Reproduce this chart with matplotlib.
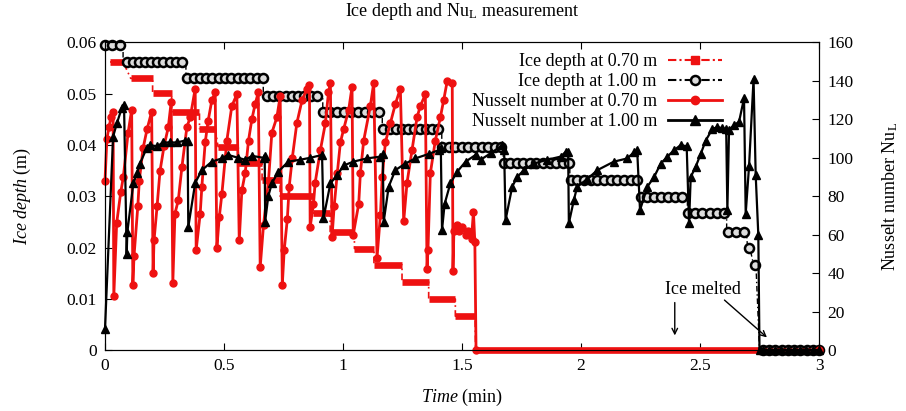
import numpy as np
import matplotlib
matplotlib.use('Agg')
import matplotlib.pyplot as plt
from matplotlib.lines import Line2D

plt.rcParams['font.family'] = 'Liberation Serif'
plt.rcParams['mathtext.fontset'] = 'custom'
plt.rcParams['mathtext.rm'] = 'Liberation Serif'
plt.rcParams['mathtext.it'] = 'Liberation Serif:italic'

RED = '#ee1111'

# ---- ice depth at 0.70 m (step levels, m) ----
r70_start = [0.021, 0.108, 0.200, 0.280, 0.397, 0.475, 0.560, 0.660, 0.736, 0.876,
             0.946, 1.048, 1.130, 1.248, 1.360, 1.472, 1.557]
r70_end = [0.076, 0.200, 0.280, 0.397, 0.463, 0.560, 0.660, 0.736, 0.876, 0.946,
           1.048, 1.130, 1.248, 1.360, 1.472, 1.555, 3.0]
r70_level = [0.0562, 0.0530, 0.0501, 0.0465, 0.0432, 0.0397, 0.0365, 0.0332, 0.0300, 0.0267,
             0.0231, 0.0198, 0.0166, 0.0133, 0.00995, 0.0066, 0.0]

# ---- ice depth at 1.00 m (step levels, m) ----
d100_start = [0.0, 0.076, 0.34, 0.665, 0.915, 1.165, 1.415, 1.673, 1.953, 2.245,
              2.447, 2.612, 2.700, 2.725, 2.75]
d100_end = [0.076, 0.34, 0.665, 0.915, 1.165, 1.415, 1.673, 1.953, 2.245, 2.447,
            2.612, 2.695, 2.71, 2.735, 3.0]
d100_level = [0.0595, 0.0562, 0.0531, 0.0496, 0.0464, 0.0431, 0.0396, 0.0365, 0.0332, 0.0299,
              0.0267, 0.0230, 0.0199, 0.0166, 0.0]
# first / last sample shown with a marker on each step, and number of samples
d100_first = [0.0, 0.091, 0.346, 0.68, 0.918, 1.17, 1.417, 1.676, 1.956, 2.25,
              2.45, 2.617, 2.705, 2.73, 2.765]
d100_last = [0.063, 0.323, 0.663, 0.89, 1.15, 1.40, 1.665, 1.95, 2.237, 2.426,
             2.60, 2.685, 2.705, 2.73, 3.0]
d100_count = [3, 10, 13, 9, 9, 10, 10, 11, 11, 7, 6, 3, 1, 1, 10]

# ---- Nusselt number at 0.70 m ----
nu70_t = [0.000, 0.008, 0.017, 0.025, 0.034, 0.037, 0.049, 0.066, 0.077, 0.097, 0.112,
          0.117, 0.122, 0.138, 0.144, 0.160, 0.177, 0.196,
          0.202, 0.206, 0.219, 0.231, 0.248, 0.266, 0.278,
          0.285, 0.294, 0.308, 0.323, 0.344, 0.358, 0.379,
          0.383, 0.400, 0.407, 0.421, 0.433, 0.449, 0.463,
          0.470, 0.480, 0.491, 0.512, 0.533, 0.554,
          0.564, 0.575, 0.589, 0.603, 0.617, 0.631, 0.644,
          0.652, 0.666, 0.687, 0.701, 0.722, 0.736,
          0.745, 0.753, 0.766, 0.774, 0.787, 0.806, 0.828, 0.849, 0.859,
          0.862, 0.876, 0.883, 0.905, 0.926, 0.939, 0.947,
          0.954, 0.963, 0.976, 0.989, 1.003, 1.024, 1.038,
          1.043, 1.066, 1.073, 1.087, 1.115, 1.129,
          1.143, 1.157, 1.165, 1.178, 1.199, 1.220, 1.241,
          1.255, 1.269, 1.290, 1.311, 1.325, 1.346,
          1.353, 1.357, 1.367, 1.388, 1.409, 1.423, 1.438, 1.459,
          1.462, 1.466, 1.477, 1.489, 1.502, 1.515, 1.527, 1.540, 1.548, 1.554,
          1.559, 3.0]
nu70_v = [88, 110, 116, 121, 124, 28, 66, 82, 90, 113, 125,
          34, 49, 75, 88, 105, 115, 124,
          40, 57, 75, 93, 106, 116, 129,
          35, 71, 78, 95, 116, 121, 136,
          52, 71, 85, 108, 119, 130, 134,
          53, 69, 81, 109, 127, 133,
          57, 83, 92, 109, 120, 128, 134,
          43, 65, 88, 113, 121, 132,
          34, 52, 68, 85, 100, 118, 130, 136, 138,
          64, 76, 87, 104, 118, 134, 139,
          59, 75, 92, 108, 115, 125, 137,
          60, 76, 92, 109, 127, 139,
          48, 70, 90, 108, 118, 128, 136,
          67, 87, 104, 121, 127, 133,
          42, 52, 92, 109, 121, 130, 140, 139,
          41, 62, 65, 62, 64, 60, 62, 58, 72, 56,
          0, 0]

# ---- Nusselt number at 1.00 m ----
nu100_t = [0.000, 0.034, 0.050, 0.070, 0.080, 0.091, 0.094,
           0.119, 0.135, 0.147, 0.175, 0.189, 0.219, 0.244, 0.273, 0.303, 0.337, 0.347,
           0.350, 0.379, 0.407, 0.449, 0.491, 0.517, 0.560, 0.589, 0.618, 0.666, 0.671,
           0.673, 0.686, 0.701, 0.728, 0.770, 0.820, 0.862, 0.912,
           0.918, 0.947, 0.975, 1.003, 1.043, 1.101, 1.157, 1.167,
           1.171, 1.192, 1.220, 1.262, 1.304, 1.360, 1.402, 1.411,
           1.416, 1.427, 1.451, 1.480, 1.515, 1.557, 1.578, 1.620, 1.669, 1.677,
           1.683, 1.711, 1.732, 1.760, 1.802, 1.858, 1.914, 1.935, 1.946,
           1.949, 1.970, 1.984, 2.027, 2.069, 2.138, 2.195, 2.223, 2.236,
           2.248, 2.279, 2.307, 2.335, 2.363, 2.391, 2.419, 2.444,
           2.454, 2.461, 2.482, 2.503, 2.524, 2.552, 2.573, 2.594, 2.610,
           2.615, 2.622, 2.643, 2.664, 2.685,
           2.692, 2.706, 2.725, 2.734, 2.745, 2.750,
           2.764, 2.790, 2.816, 2.842, 2.868, 2.895, 2.921, 2.947, 2.973, 3.0]
nu100_v = [11, 111, 118, 125.7, 127.5, 50, 61.5,
           86.7, 92, 97, 105, 106.6, 106, 108, 108, 108, 109, 109,
           64, 87, 93.6, 98, 99.7, 101.5, 100, 99, 101, 100, 101,
           66.8, 80, 86.7, 92.8, 98, 99, 100, 101.5,
           68.5, 86.7, 91, 96, 98, 99.7, 100.6, 102,
           66.8, 85, 93.6, 97, 99.7, 102, 104, 105,
           62.4, 76, 86.7, 92.8, 98, 101.5, 99, 102.3, 106.6, 104,
           67.6, 85, 90, 93.6, 97, 99, 100.6, 103, 103,
           66, 78, 85, 89, 93.6, 98, 99.7, 103, 104,
           72.8, 85, 90, 97, 100.6, 104, 106.6, 106,
           66, 90, 95.4, 102, 109, 115, 116, 115.3, 115,
           72.8, 114.5, 117, 118.7, 131,
           71, 95.5, 141, 91, 60, 0,
           0, 0, 0, 0, 0, 0, 0, 0, 0, 0]

xticks = [0, 0.5, 1, 1.5, 2, 2.5, 3]
xticklabels = ['0', '0.5', '1', '1.5', '2', '2.5', '3']
yticks = [0, 0.01, 0.02, 0.03, 0.04, 0.05, 0.06]
yticklabels = ['0', '0.01', '0.02', '0.03', '0.04', '0.05', '0.06']
y2ticks = [0, 20, 40, 60, 80, 100, 120, 140, 160]

fig = plt.figure(figsize=(9.06, 4.11), dpi=100)
ax = fig.add_axes([105/906, 61/411, 714/906, 307.5/411])
ax2 = ax.twinx()

# ice depth at 0.70 m: dense square markers look like thick bars
path_x, path_y = [], []
for s, e, lev in zip(r70_start, r70_end, r70_level):
    ax.plot([s, e], [lev, lev], color=RED, lw=4.8, solid_capstyle='butt', clip_on=False)
    path_x += [s, e]
    path_y += [lev, lev]
ax.plot(path_x, path_y, color=RED, lw=1.2, ls=(0, (4, 2, 1, 2)), clip_on=False)

# ice depth at 1.00 m
path_x, path_y = [], []
for s, e, lev in zip(d100_start, d100_end, d100_level):
    path_x += [s, e]
    path_y += [lev, lev]
ax.plot(path_x, path_y, color='k', lw=1.0, ls=(0, (4, 2, 1, 2)))
cx, cy = [], []
for a, b, n, lev in zip(d100_first, d100_last, d100_count, d100_level):
    cx += list(np.linspace(a, b, n))
    cy += [lev] * n
ax.plot(cx, cy, ls='none', marker='o', ms=6.5, mfc='#dddddd', mec='k', mew=1.8,
        clip_on=False)

# Nusselt numbers
ax2.plot(nu70_t, nu70_v, color=RED, lw=2.0, marker='o', ms=5, clip_on=False)
ax2.plot(nu100_t, nu100_v, color='k', lw=1.6, marker='^', ms=6, clip_on=False)

ax.set_xlim(0, 3)
ax.set_ylim(0, 0.06)
ax2.set_ylim(0, 160)
ax.set_xticks(xticks)
ax.set_xticklabels(xticklabels)
ax.set_yticks(yticks)
ax.set_yticklabels(yticklabels)
ax2.set_yticks(y2ticks)
ax2.set_yticklabels([str(v) for v in y2ticks])
ax.tick_params(axis='x', direction='in', top=True, length=5, labelsize=12.5, pad=6)
ax.tick_params(axis='y', direction='in', right=False, length=5, labelsize=12.5, pad=6)
ax2.tick_params(axis='y', direction='in', length=5, labelsize=12.5, pad=6)

ax.set_xlabel(r'$\mathit{Time}$ (min)', fontsize=13, labelpad=9)
ax.set_ylabel(r'$\mathit{Ice\ depth}$ (m)', fontsize=13, labelpad=24)
ax2.set_ylabel(r'Nusselt number Nu$_\mathrm{L}$', fontsize=13, labelpad=19)
ax.set_title(r'Ice depth and Nu$_\mathrm{L}$ measurement', fontsize=13, pad=19)

ax.annotate('', xy=(2.394, 0.0023), xytext=(2.394, 0.0098),
            arrowprops=dict(arrowstyle='->', color='k', lw=1))
ax.annotate('', xy=(2.79, 0.0021), xytext=(2.594, 0.0101),
            arrowprops=dict(arrowstyle='->', color='k', lw=1))
ax.text(2.512, 0.0119, 'Ice melted', ha='center', va='center', fontsize=13)

handles = [
    Line2D([], [], color=RED, lw=1.5, ls=(0, (4, 1.5, 1, 1.5)), marker='s', ms=6),
    Line2D([], [], color='k', lw=1.5, ls=(0, (4, 1.5, 1, 1.5)), marker='o', ms=6.5,
           mfc='#dddddd', mew=1.8),
    Line2D([], [], color=RED, lw=2, marker='o', ms=6),
    Line2D([], [], color='k', lw=2, marker='^', ms=7),
]
labels = ['Ice depth at 0.70 m', 'Ice depth at 1.00 m',
          'Nusselt number at 0.70 m', 'Nusselt number at 1.00 m']
ax2.legend(handles, labels, loc='upper right', bbox_to_anchor=(0.864, 0.965),
           frameon=False, markerfirst=False, numpoints=1, fontsize=13,
           handlelength=3.0, handletextpad=0.6, labelspacing=0.17,
           borderpad=0, borderaxespad=0)

fig.savefig('out.png', dpi=100)
